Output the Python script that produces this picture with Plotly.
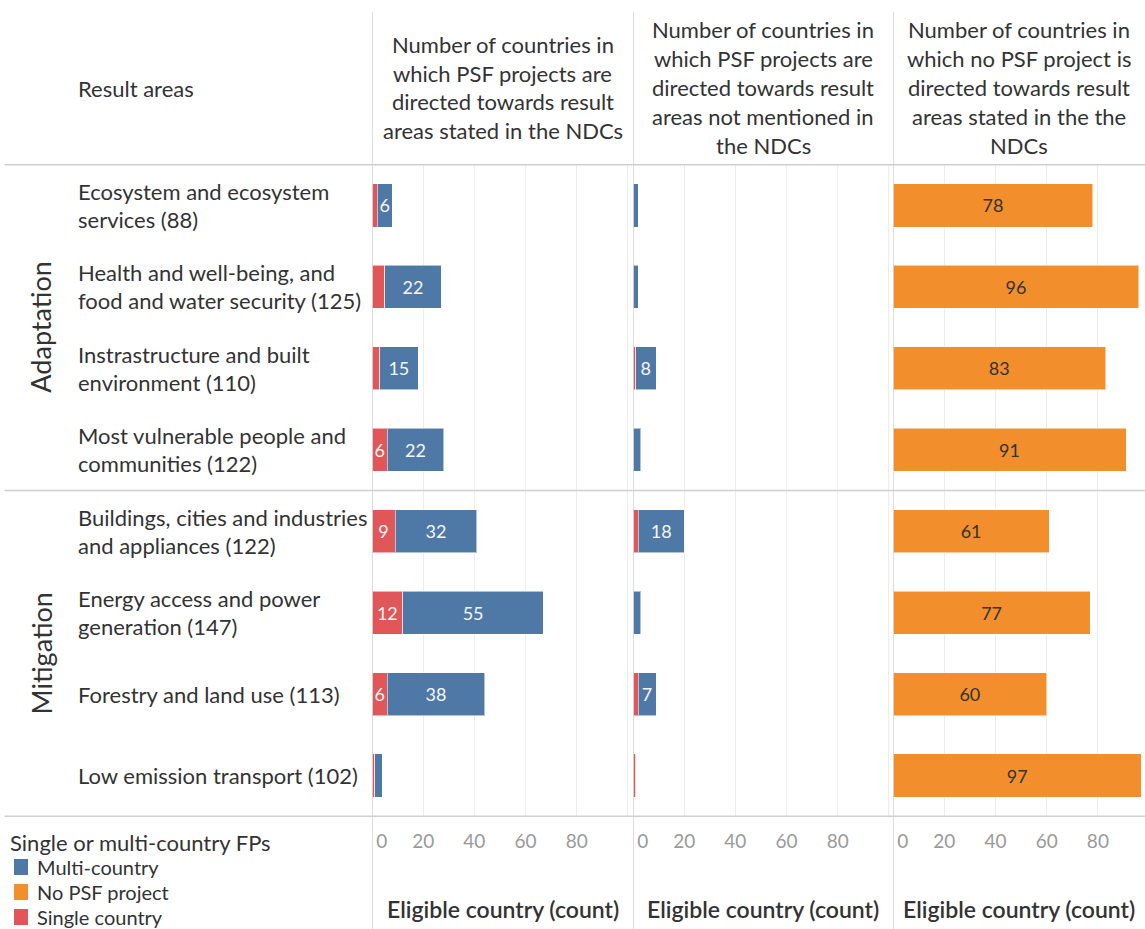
import plotly.graph_objects as go

W, H = 1145, 929
FONT = "Lato"
TEXT = "#333333"
BLUE = "#4e79a7"
RED = "#e15759"
ORANGE = "#f28e2b"
LINE = "#d0d0d0"
GRID = "#ececec"

# ----------------------------- datos -----------------------------
result_areas = [
    "Ecosystem and ecosystem<br>services (88)",
    "Health and well-being, and<br>food and water security (125)",
    "Instrastructure and built<br>environment (110)",
    "Most vulnerable people and<br>communities (122)",
    "Buildings, cities and industries<br>and appliances (122)",
    "Energy access and power<br>generation (147)",
    "Forestry and land use (113)",
    "Low emission transport (102)",
]
groups = ["Adaptation", "Mitigation"]
group_sizes = [4, 4]

# panel 1: directed towards result areas stated in the NDCs
ndc_single = [2, 5, 3, 6, 9, 12, 6, 1]
ndc_multi = [6, 22, 15, 22, 32, 55, 38, 3]
# panel 2: directed towards result areas not mentioned in the NDCs
other_single = [0, 0, 1, 0, 2, 0, 2, 1]
other_multi = [2, 2, 8, 3, 18, 3, 7, 0]
# panel 3: no PSF project
no_psf = [78, 96, 83, 91, 61, 77, 60, 97]

headers = [
    ["Number of countries in", "which PSF projects are", "directed towards result",
     "areas stated in the NDCs"],
    ["Number of countries in", "which PSF projects are", "directed towards result",
     "areas not mentioned in", "the NDCs"],
    ["Number of countries in", "which no PSF project is", "directed towards result",
     "areas stated in the the", "NDCs"],
]
x_ticks = [0, 20, 40, 60, 80, 100]
x_tick_text = ["\u00a0\u00a0\u00a0\u00a00", "20", "40", "60", "80", ""]
axis_title = "Eligible country (count)"
legend_title = "Single or multi-country FPs"
legend_items = [("Multi-country", BLUE), ("No PSF project", ORANGE), ("Single country", RED)]


def etiquetas(vals, minimo=6):
    # Tableau oculta las etiquetas de los segmentos estrechos
    return [str(v) if v >= minimo else "" for v in vals]


def px_y(py):
    return 1 - py / H


def px_x(px):
    return px / W


fig = go.Figure()

series = [
    # (valores, nombre, color, eje, color texto)
    (ndc_single, "Single country", RED, "x", "#f5f5f5"),
    (ndc_multi, "Multi-country", BLUE, "x", "#f5f5f5"),
    (other_single, "Single country", RED, "x2", "#f5f5f5"),
    (other_multi, "Multi-country", BLUE, "x2", "#f5f5f5"),
    (no_psf, "No PSF project", ORANGE, "x3", TEXT),
]
for vals, nombre, color, eje, tcolor in series:
    fig.add_trace(go.Bar(
        x=vals, y=result_areas, orientation="h", name=nombre,
        xaxis=eje, yaxis="y", showlegend=False,
        marker=dict(color=color, line=dict(width=1, color="rgba(255,255,255,0.55)")),
        width=0.53,
        text=etiquetas(vals), textposition="inside", insidetextanchor="middle",
        textangle=0, textfont=dict(size=18, color=tcolor, family=FONT),
        hoverinfo="x+y+name",
    ))

# dominios de los paneles en pixeles
panel_px = [(372, 633, 102.0), (633, 893, 101.6), (893, 1145, 98.4)]
ejes = {}
for i, (a, b, rmax) in enumerate(panel_px):
    ejes["xaxis" if i == 0 else "xaxis%d" % (i + 1)] = dict(
        domain=[px_x(a), px_x(b)], range=[0, rmax], anchor="y",
        tickvals=x_ticks, ticktext=x_tick_text, automargin=False,
        showgrid=True, gridcolor=GRID, gridwidth=1, zeroline=False,
        showline=False, ticks="outside", ticklen=7, tickcolor="rgba(0,0,0,0)",
        tickfont=dict(size=19, color="#9a9a9a", family=FONT), fixedrange=True,
    )

fig.update_layout(
    width=W, height=H,
    margin=dict(l=0, r=0, t=0, b=0, autoexpand=False),
    paper_bgcolor="white", plot_bgcolor="white",
    barmode="stack",
    showlegend=False,
    font=dict(family=FONT, color=TEXT),
    uniformtext=dict(minsize=18, mode="show"),
    yaxis=dict(domain=[px_y(817), px_y(164)], anchor="x", type="category",
               categoryorder="array", categoryarray=result_areas,
               autorange="reversed", showticklabels=False, showgrid=False,
               zeroline=False, fixedrange=True, automargin=False),
    **ejes,
)


def add_lines(lines, x, y, xref, yref, xanchor="center", size=22, step=28.8,
              weight="normal"):
    n = len(lines)
    for k, line in enumerate(lines):
        fig.add_annotation(
            text=line, x=x, y=y, xref=xref, yref=yref, xanchor=xanchor,
            yanchor="middle", showarrow=False,
            yshift=((n - 1) / 2 - k) * step,
            font=dict(size=size, color=TEXT, family=FONT, weight=weight))


# cabeceras de columna
add_lines(["Result areas"], px_x(76), px_y(89), "paper", "paper", xanchor="left")
for i, lines in enumerate(headers):
    ref = "x domain" if i == 0 else "x%d domain" % (i + 1)
    add_lines(lines, 0.5, px_y(87.5), ref, "paper")
    add_lines([axis_title], 0.5, px_y(909), ref, "paper", size=23, weight=600)

# etiquetas de filas
for i, area in enumerate(result_areas):
    add_lines(area.split("<br>"), px_x(76), i, "paper", "y", xanchor="left", step=28)

# grupos (Adaptation / Mitigation) y separadores
start = 0
for g, n in zip(groups, group_sizes):
    fig.add_annotation(text=g, x=px_x(41), y=start + (n - 1) / 2, xref="paper", yref="y",
                       xanchor="center", yanchor="middle", textangle=-90, showarrow=False,
                       font=dict(size=27, color=TEXT, family=FONT))
    start += n

limites = [-0.5]
acc = -0.5
for n in group_sizes:
    acc += n
    limites.append(acc)
for yv in limites:
    fig.add_shape(type="line", xref="paper", yref="y", x0=0.004, x1=1, y0=yv, y1=yv,
                  line=dict(color=LINE, width=1.5), layer="above")

for i in range(3):
    ref = "x" if i == 0 else "x%d" % (i + 1)
    fig.add_shape(type="line", xref=ref, yref="paper", x0=0, x1=0, y0=0, y1=px_y(12),
                  line=dict(color=LINE, width=1.5), layer="above")

# leyenda (dibujada a mano, como en Tableau)
add_lines([legend_title], px_x(8), px_y(842), "paper", "paper", xanchor="left", size=22)
for k, (nombre, color) in enumerate(legend_items):
    yc = 867 + 25 * k
    fig.add_shape(type="rect", xref="paper", yref="paper",
                  x0=px_x(14), x1=px_x(28), y0=px_y(yc + 8), y1=px_y(yc - 8),
                  fillcolor=color, line=dict(width=0))
    add_lines([nombre], px_x(35), px_y(yc), "paper", "paper", xanchor="left", size=20)

fig.write_html("out.html", config={"displayModeBar": False},
               post_script="document.body.style.margin='0';")
